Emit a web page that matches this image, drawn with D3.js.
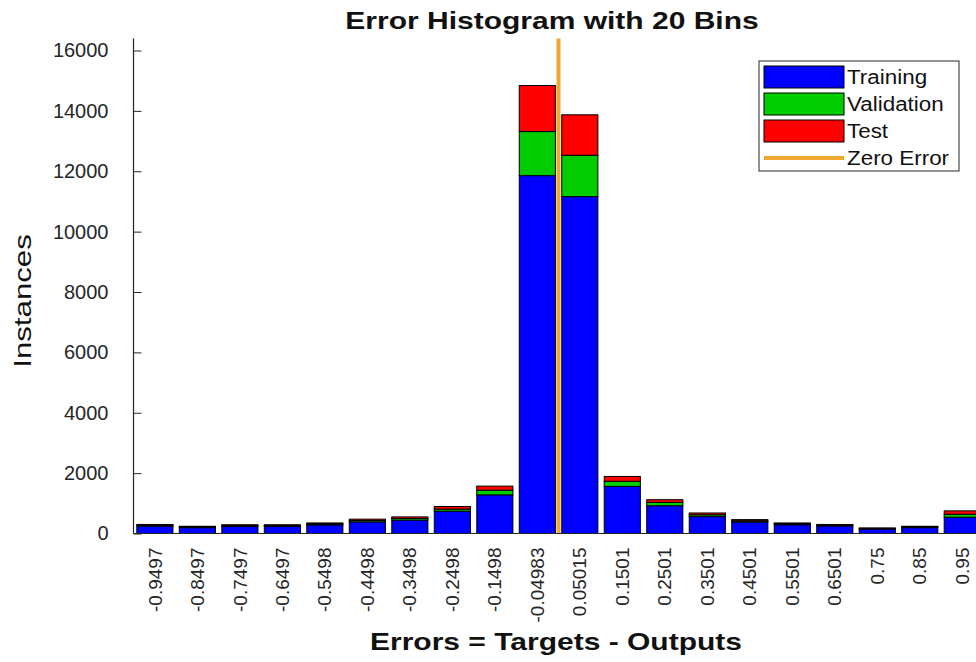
<!DOCTYPE html>
<html>
<head>
<meta charset="utf-8">
<script src="https://cdn.jsdelivr.net/npm/d3@7"></script>
<style>
  html, body { margin: 0; padding: 0; background: #fff; }
  svg { display: block; font-family: "Liberation Sans", Arial, sans-serif; }
</style>
</head>
<body>
<svg id="chart" width="976" height="662"></svg>
<script>
// Bin centres (tick labels) of the 20-bin error histogram
const binLabels = ["-0.9497", "-0.8497", "-0.7497", "-0.6497", "-0.5498", "-0.4498", "-0.3498",
  "-0.2498", "-0.1498", "-0.04983", "0.05015", "0.1501", "0.2501", "0.3501", "0.4501",
  "0.5501", "0.6501", "0.75", "0.85", "0.95"];
const binCenters = [-0.9497, -0.8497, -0.7497, -0.6497, -0.5498, -0.4498, -0.3498,
  -0.2498, -0.1498, -0.04983, 0.05015, 0.1501, 0.2501, 0.3501, 0.4501,
  0.5501, 0.6501, 0.75, 0.85, 0.95];

// Instances per bin for each data split
const training   = [245, 195, 235, 235, 285, 385, 445, 740, 1280, 11855, 11160, 1560, 920, 560, 380, 290, 250, 150, 195, 540];
const validation = [28, 23, 28, 28, 33, 45, 52, 70, 155, 1460, 1370, 170, 110, 60, 40, 30, 25, 18, 22, 100];
const test       = [27, 22, 27, 27, 32, 45, 53, 85, 135, 1525, 1340, 160, 90, 60, 40, 30, 25, 17, 23, 110];

const yTicks = [0, 2000, 4000, 6000, 8000, 10000, 12000, 14000, 16000];

const seriesNames  = ["Training", "Validation", "Test"];
const seriesColors = ["#0000ff", "#00cc00", "#ff0000"];
const zeroColor = "#f0a830";
const axisColor = "#262626";

const svg = d3.select("#chart");

const x = d3.scaleLinear().domain([-1, 1.05]).range([133.5, 133.5 + 2.05 * 425]);
const y = d3.scaleLinear().domain([0, 16000]).range([533.5, 50.5]);
const yTop = 16400;
const binWidth = 0.1;
const barFrac = 0.85;

// widen a text element horizontally by a factor (glyphs and spacing)
function widen(sel, factor) {
  sel.each(function () {
    const w = this.getComputedTextLength();
    d3.select(this).attr("textLength", w * factor).attr("lengthAdjust", "spacingAndGlyphs");
  });
  return sel;
}

// stacked bars
const rows = binCenters.map((c, i) => ({ c, Training: training[i], Validation: validation[i], Test: test[i] }));
const stack = d3.stack().keys(seriesNames)(rows);

const barG = svg.append("g");
stack.forEach((layer, k) => {
  barG.selectAll(null).data(layer).enter().append("rect")
    .attr("x", d => x(d.data.c - binWidth * barFrac / 2))
    .attr("width", d => x(d.data.c + binWidth * barFrac / 2) - x(d.data.c - binWidth * barFrac / 2))
    .attr("y", d => y(d[1]))
    .attr("height", d => y(d[0]) - y(d[1]))
    .attr("fill", seriesColors[k])
    .attr("stroke", "#000")
    .attr("stroke-width", 1);
});

// zero error line
svg.append("line")
  .attr("x1", x(0)).attr("x2", x(0))
  .attr("y1", y(yTop)).attr("y2", y(0))
  .attr("stroke", zeroColor).attr("stroke-width", 4);

// y axis (ticks pointing inward)
const yAxis = d3.axisLeft(y).tickValues(yTicks).tickFormat(d3.format("d"))
  .tickSize(-8).tickPadding(25).tickSizeOuter(0);
const yg = svg.append("g").attr("transform", `translate(${x(-1)},0)`).call(yAxis);
yg.select(".domain").remove();
yg.selectAll(".tick line").attr("stroke", axisColor);
yg.selectAll(".tick text").attr("font-size", 20).attr("fill", axisColor)
  .attr("font-family", "Liberation Sans, Arial, sans-serif");
svg.append("line")
  .attr("x1", x(-1)).attr("x2", x(-1))
  .attr("y1", y(yTop)).attr("y2", y(0))
  .attr("stroke", axisColor).attr("stroke-width", 1.2);

// x axis baseline
svg.append("line")
  .attr("x1", x(-1)).attr("x2", x(1.05))
  .attr("y1", y(0)).attr("y2", y(0))
  .attr("stroke", axisColor).attr("stroke-width", 1.2);

// x tick labels, rotated
svg.append("g").selectAll("text").data(binCenters).enter().append("text")
  .attr("transform", (d) => `translate(${x(d)},${y(0) + 14}) rotate(-90)`)
  .attr("text-anchor", "end")
  .attr("dy", "0.35em")
  .attr("font-size", 19)
  .attr("fill", axisColor)
  .text((d, i) => binLabels[i]);

// title and axis labels
widen(svg.append("text")
  .attr("x", 552).attr("y", 29)
  .attr("text-anchor", "middle")
  .attr("font-size", 24).attr("font-weight", "bold").attr("fill", "#111")
  .text("Error Histogram with 20 Bins"), 1.25);

widen(svg.append("text")
  .attr("x", 556).attr("y", 650)
  .attr("text-anchor", "middle")
  .attr("font-size", 24).attr("font-weight", "bold").attr("fill", "#111")
  .text("Errors = Targets - Outputs"), 1.25);

widen(svg.append("text")
  .attr("transform", "translate(31,301) rotate(-90)")
  .attr("text-anchor", "middle")
  .attr("font-size", 24).attr("fill", "#111")
  .text("Instances"), 1.3);

// legend
const lg = svg.append("g");
const lgRight = 959, lgTop = 61, rowH = 27, swW = 80, swH = 22;
const textX = 847;
const legendItems = seriesNames.map((n, i) => ({ name: n, color: seriesColors[i], type: "bar" }))
  .concat([{ name: "Zero Error", color: zeroColor, type: "line" }]);
lg.append("rect")
  .attr("x", textX - swW - 8).attr("y", lgTop)
  .attr("width", lgRight - (textX - swW - 8)).attr("height", 110)
  .attr("fill", "#fff").attr("stroke", axisColor).attr("stroke-width", 1);
legendItems.forEach((it, i) => {
  const cy = lgTop + 16 + i * rowH;
  if (it.type === "bar") {
    lg.append("rect").attr("x", textX - swW - 3).attr("y", cy - swH / 2)
      .attr("width", swW).attr("height", swH)
      .attr("fill", it.color).attr("stroke", "#000").attr("stroke-width", 1);
  } else {
    lg.append("line").attr("x1", textX - swW - 3).attr("x2", textX - 3)
      .attr("y1", cy).attr("y2", cy)
      .attr("stroke", it.color).attr("stroke-width", 4);
  }
  widen(lg.append("text").attr("x", textX).attr("y", cy).attr("dy", "0.35em")
    .attr("font-size", 20).attr("fill", "#111").text(it.name), 1.12);
});
</script>
</body>
</html>
